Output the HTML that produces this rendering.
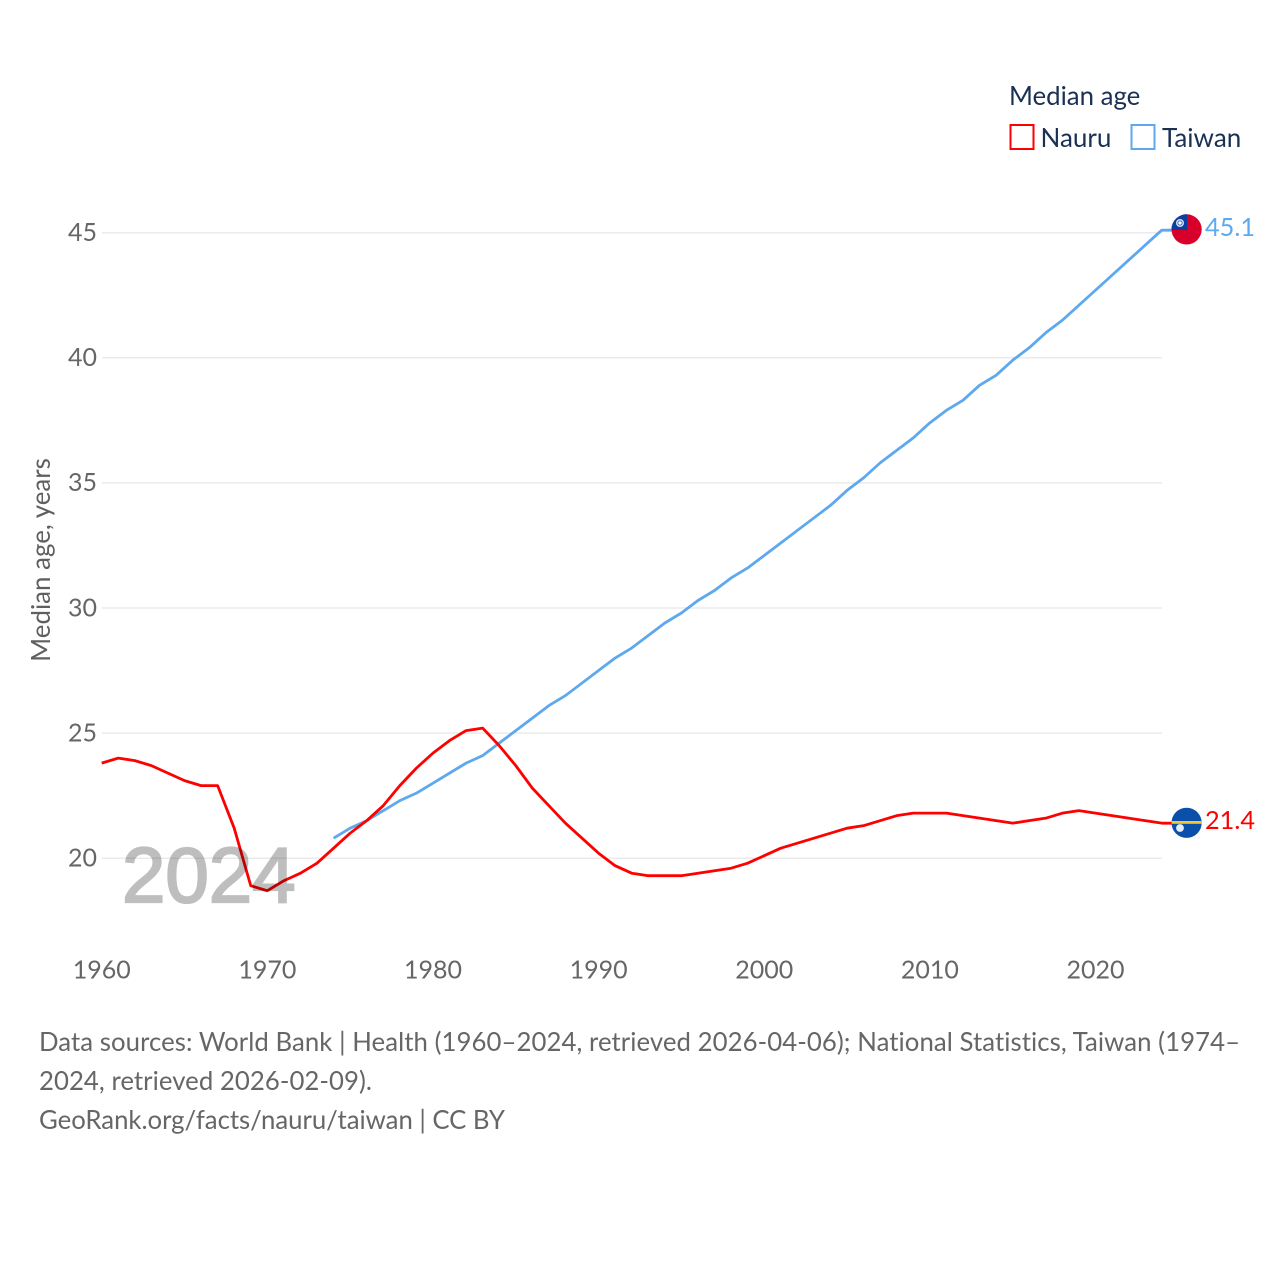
<!DOCTYPE html>
<html lang="en">
<head>
<meta charset="utf-8">
<title>Median age: Nauru and Taiwan</title>
<style>
html,body{margin:0;padding:0;background:#fff;width:1280px;height:1280px;overflow:hidden}
svg{display:block;font-family:"Lato","Carlito","Liberation Sans",sans-serif;font-variant-ligatures:none}
</style>
</head>
<body>
<svg id="chart" width="1280" height="1280" viewBox="0 0 1280 1280" xmlns="http://www.w3.org/2000/svg">
  <defs>
    <clipPath id="flag-clip-tw"><circle cx="1186.6" cy="229.4" r="15.1"/></clipPath>
    <clipPath id="flag-clip-nr"><circle cx="1186.6" cy="822.8" r="15.1"/></clipPath>
  </defs>
  <rect width="1280" height="1280" fill="#fff"/>
  <g id="grid"></g>
  <g id="yticks"></g>
  <g id="xticks"></g>
  <text transform="translate(50,560) rotate(-90)" text-anchor="middle" font-size="25.9" fill="#5f5f5f">Median age, years</text>
  <g id="series"></g>
  <text x="122" y="902" font-family="'Liberation Sans',sans-serif" font-weight="400" font-size="78" fill="#000" stroke="#000" stroke-width="2.2" opacity="0.25">2024</text>

  <g>
    <text x="1009" y="105" font-size="25.8" fill="#1a3154">Median age</text>
    <g>
      <rect x="1010.5" y="125" width="23" height="24" fill="none" stroke="#ff0000" stroke-width="2"/>
      <text x="1040.5" y="147" font-size="26" fill="#1a3154">Nauru</text>
    </g>
    <g>
      <rect x="1131.5" y="125" width="23" height="24" fill="none" stroke="#5ea8ee" stroke-width="2"/>
      <text x="1162" y="147" font-size="26" fill="#1a3154">Taiwan</text>
    </g>
  </g>

  <g clip-path="url(#flag-clip-tw)">
    <rect x="1171" y="214" width="31" height="31" fill="#d8002a"/>
    <rect x="1171" y="214" width="16" height="16" fill="#0a3fa0"/>
    <circle cx="1180" cy="223" r="4" fill="#cfe0f5"/>
    <circle cx="1180" cy="223" r="2.6" fill="#3f6cb8"/>
    <circle cx="1180" cy="223" r="1.6" fill="#fff"/>
  </g>
  <g clip-path="url(#flag-clip-nr)">
    <rect x="1171" y="807" width="31" height="32" fill="#0a50aa"/>
    <rect x="1171" y="821" width="31" height="2.8" fill="#f3c530"/>
    <circle cx="1180" cy="828" r="3.9" fill="#e4edf8"/>
  </g>
  <text x="1205" y="236" font-size="25.3" fill="#5ea8ee">45.1</text>
  <text x="1205" y="829" font-size="25.3" fill="#ff0000">21.4</text>

  <g font-size="25.75" fill="#666">
    <text x="39" y="1051" textLength="1201" lengthAdjust="spacing">Data sources: World Bank | Health (1960–2024, retrieved 2026-04-06); National Statistics, Taiwan (1974–</text>
    <text x="39" y="1090" textLength="333" lengthAdjust="spacing">2024, retrieved 2026-02-09).</text>
    <text x="39" y="1129" textLength="466" lengthAdjust="spacing">GeoRank.org/facts/nauru/taiwan | CC BY</text>
  </g>
</svg>
<script>
const years = [];
for (let yr = 1960; yr <= 2024; yr++) years.push(yr);
const yTickValues = [20, 25, 30, 35, 40, 45];
const xTickValues = [1960, 1970, 1980, 1990, 2000, 2010, 2020];
const nauruValues = [23.8,24.0,23.9,23.7,23.4,23.1,22.9,22.9,21.2,18.9,18.7,19.1,19.4,19.8,20.4,21.0,21.5,22.1,22.9,23.6,24.2,24.7,25.1,25.2,24.5,23.7,22.8,22.1,21.4,20.8,20.2,19.7,19.4,19.3,19.3,19.3,19.4,19.5,19.6,19.8,20.1,20.4,20.6,20.8,21.0,21.2,21.3,21.5,21.7,21.8,21.8,21.8,21.7,21.6,21.5,21.4,21.5,21.6,21.8,21.9,21.8,21.7,21.6,21.5,21.4];
const taiwanStartYear = 1974;
const taiwanValues = [20.8,21.2,21.5,21.9,22.3,22.6,23.0,23.4,23.8,24.1,24.6,25.1,25.6,26.1,26.5,27.0,27.5,28.0,28.4,28.9,29.4,29.8,30.3,30.7,31.2,31.6,32.1,32.6,33.1,33.6,34.1,34.7,35.2,35.8,36.3,36.8,37.4,37.9,38.3,38.9,39.3,39.9,40.4,41.0,41.5,42.1,42.7,43.3,43.9,44.5,45.1];

const NS = 'http://www.w3.org/2000/svg';
const xScale = yr => 101.7 + (yr - 1960) * (1161.7 - 101.7) / (2024 - 1960);
const yScale = v => 858.2 - (v - 20) * (858.2 - 232.7) / (45 - 20);

function make(tag, attrs, parent) {
  const el = document.createElementNS(NS, tag);
  for (const k in attrs) el.setAttribute(k, attrs[k]);
  parent.appendChild(el);
  return el;
}

const gridG = document.getElementById('grid');
const yG = document.getElementById('yticks');
const xG = document.getElementById('xticks');
const seriesG = document.getElementById('series');

yTickValues.forEach(v => {
  const line = make('line', {x1: 102, x2: 1162, y1: yScale(v), y2: yScale(v), stroke: '#ebebeb', 'stroke-width': 1.5}, gridG);
  
  
  const t = make('text', {x: 97, y: yScale(v) + 8.3, 'text-anchor': 'end', 'font-size': 25, fill: '#666'}, yG);
  
  
  t.textContent = v;
});

xTickValues.forEach(yr => {
  const t = make('text', {x: xScale(yr), y: 978.5, 'text-anchor': 'middle', 'font-size': 25, fill: '#666'}, xG);
  
  
  t.textContent = yr;
});

function drawSeries(xs, vals, color) {
  const pts = vals.map((v, i) => xScale(xs[i]).toFixed(2) + ',' + yScale(v).toFixed(2));
  pts.push('1172,' + yScale(vals[vals.length - 1]).toFixed(2));
  return make('polyline', {points: pts.join(' '), fill: 'none', stroke: color, 'stroke-width': 2.8, 'stroke-linejoin': 'round'}, seriesG);
}

const taiwanLine = drawSeries(taiwanValues.map((_, i) => taiwanStartYear + i), taiwanValues, '#5ea8ee');


const nauruLine = drawSeries(years, nauruValues, '#ff0000');


</script>
</body>
</html>
